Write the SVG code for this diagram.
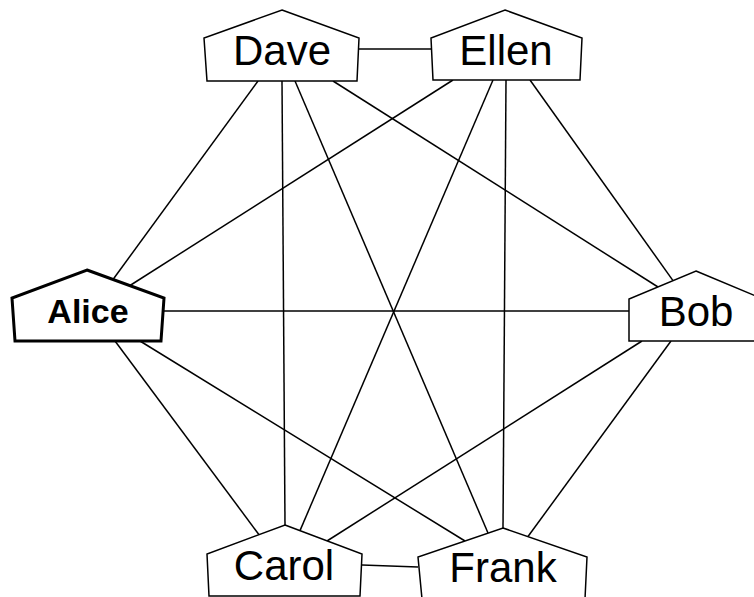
<svg xmlns="http://www.w3.org/2000/svg" width="754" height="597" viewBox="0 0 754 597">
<style>
.node{fill:#ffffff;stroke:#000000;stroke-width:1.5;stroke-linejoin:miter}
.bold{stroke-width:3}
.lbl{font-family:"Liberation Sans",Arial,sans-serif;font-size:42px;text-anchor:middle;fill:#000000}
.lblb{font-family:"Liberation Sans",Arial,sans-serif;font-size:34px;font-weight:bold;text-anchor:middle;fill:#000000}
.edges line{stroke:#000000;stroke-width:1.5}
</style>
<rect width="754" height="597" fill="#ffffff"/>
<g id="edges" class="edges">
<line x1="359" y1="49" x2="431" y2="49"/>
<line x1="258" y1="81" x2="113" y2="279.5"/>
<line x1="282" y1="81" x2="285" y2="525"/>
<line x1="295" y1="81" x2="488" y2="533"/>
<line x1="333" y1="81" x2="658" y2="287"/>
<line x1="453" y1="80" x2="130" y2="285.5"/>
<line x1="493" y1="80" x2="300" y2="530.6"/>
<line x1="506" y1="80" x2="503" y2="528"/>
<line x1="530" y1="80" x2="673" y2="280.6"/>
<line x1="164" y1="311" x2="629" y2="311"/>
<line x1="115" y1="341" x2="259" y2="534.7"/>
<line x1="140" y1="341" x2="465" y2="541"/>
<line x1="642" y1="341" x2="327" y2="541"/>
<line x1="671" y1="341" x2="528" y2="536.5"/>
<line x1="362" y1="565" x2="418" y2="567"/>
</g>
<g id="dave">
<polygon class="node" points="282,10 359,38 357,81 207,81 204,38"/>
<text class="lbl" x="282" y="65">Dave</text>
</g>
<g id="ellen">
<polygon class="node" points="505,10 582,38 580,80 433,80 431,38"/>
<text class="lbl" x="506" y="65">Ellen</text>
</g>
<g id="alice">
<polygon class="node bold" points="87,270 164,298 161,341 15,341 12,298"/>
<text class="lblb" x="88" y="323">Alice</text>
</g>
<g id="bob">
<polygon class="node" points="696,271 763,299 761,341 629,341 629,299"/>
<text class="lbl" x="696" y="326">Bob</text>
</g>
<g id="carol">
<polygon class="node" points="285,525 362,554 360,596 209,596 207,554"/>
<text class="lbl" x="284" y="580">Carol</text>
</g>
<g id="frank">
<polygon class="node" points="503,528 587,557 585,599 422,599 418,557"/>
<text class="lbl" x="503" y="582">Frank</text>
</g>
</svg>
